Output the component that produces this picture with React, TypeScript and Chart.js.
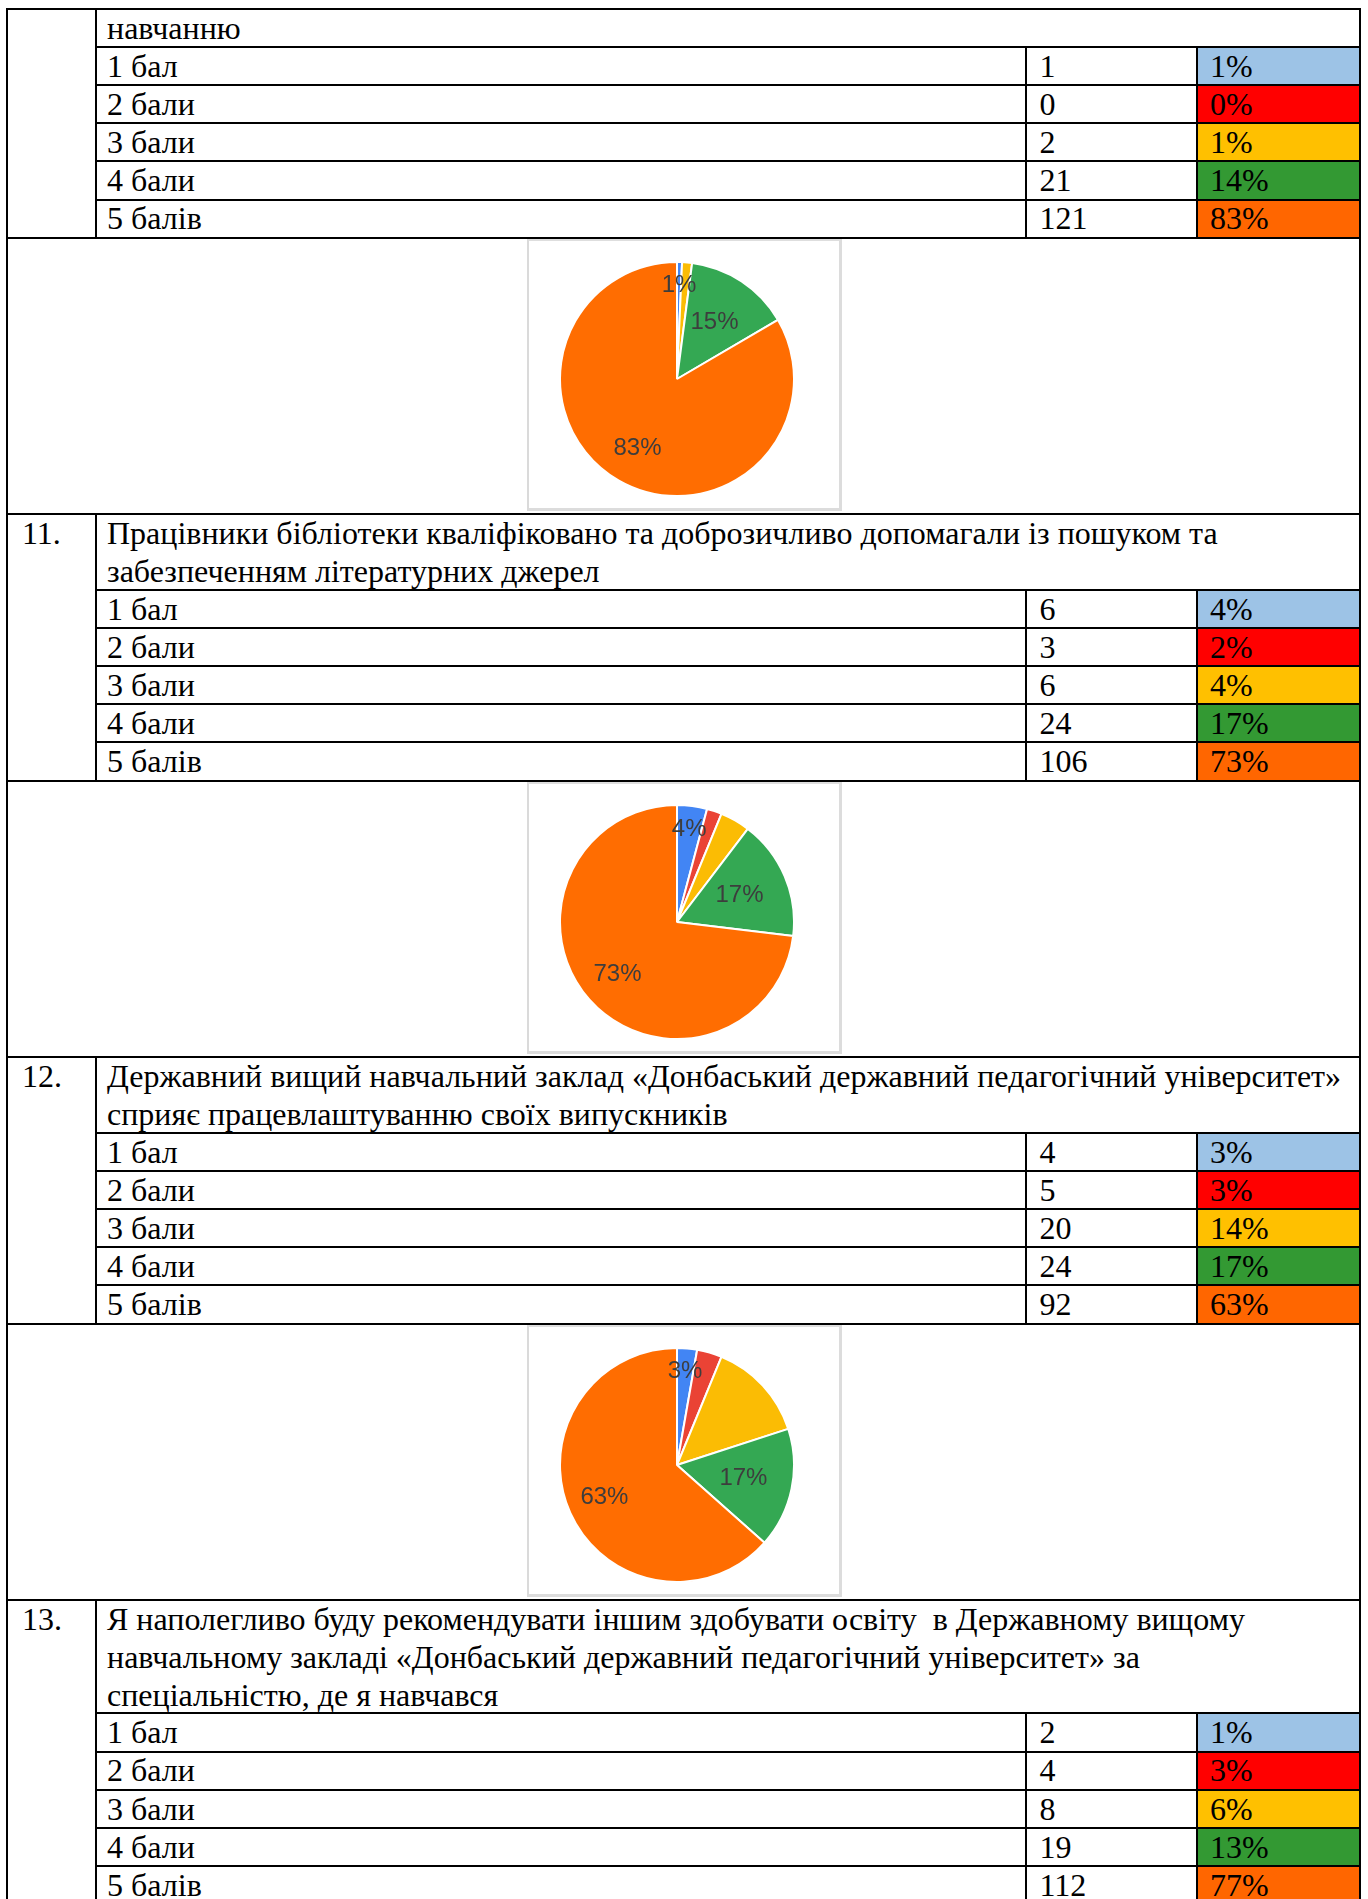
import React, { useEffect, useRef } from "react";
import { Chart, registerables } from "chart.js";

Chart.register(...registerables);

// ---------- data ----------
const scoreLabels = ["1 бал", "2 бали", "3 бали", "4 бали", "5 балів"];

const q10Number = "";
const q10Header = ["навчанню"];
const q10Counts = [1, 0, 2, 21, 121];
const q10Percents = ["1%", "0%", "1%", "14%", "83%"];
const q10PieLabels = ["1%", "", "", "15%", "83%"];

const q11Number = "11.";
const q11Header = [
  "Працівники бібліотеки кваліфіковано та доброзичливо допомагали із пошуком та",
  "забезпеченням літературних джерел",
];
const q11Counts = [6, 3, 6, 24, 106];
const q11Percents = ["4%", "2%", "4%", "17%", "73%"];
const q11PieLabels = ["4%", "", "", "17%", "73%"];

const q12Number = "12.";
const q12Header = [
  "Державний вищий навчальний заклад «Донбаський державний педагогічний університет»",
  "сприяє працевлаштуванню своїх випускників",
];
const q12Counts = [4, 5, 20, 24, 92];
const q12Percents = ["3%", "3%", "14%", "17%", "63%"];
const q12PieLabels = ["3%", "", "", "17%", "63%"];

const q13Number = "13.";
const q13Header = [
  "Я наполегливо буду рекомендувати іншим здобувати освіту  в Державному вищому",
  "навчальному закладі «Донбаський державний педагогічний університет» за",
  "спеціальністю, де я навчався",
];
const q13Counts = [2, 4, 8, 19, 112];
const q13Percents = ["1%", "3%", "6%", "13%", "77%"];

const pieColors = ["#4285F4", "#EA4335", "#FBBC04", "#34A853", "#FF6D01"];
const cellColors = ["#9DC3E6", "#FF0000", "#FFC000", "#339933", "#FF6600"];

// ---------- layout ----------
const X_LEFT = 7;
const X_C1 = 96;
const X_C3 = 1026;
const X_C4 = 1197;
const X_RIGHT = 1360;
const Y0 = 9.2;
const HL = 37.7;
const RP = 38.15;
const PR = 276.8;
const PAGE_H = 1899;
const PIE_SIZE = 236;
const TEXT_DY = 0.8;

type Section = {
  num: string;
  header: string[];
  counts: number[];
  percents: string[];
  pieLabels: string[] | null;
};

const sections: Section[] = [
  { num: q10Number, header: q10Header, counts: q10Counts, percents: q10Percents, pieLabels: q10PieLabels },
  { num: q11Number, header: q11Header, counts: q11Counts, percents: q11Percents, pieLabels: q11PieLabels },
  { num: q12Number, header: q12Header, counts: q12Counts, percents: q12Percents, pieLabels: q12PieLabels },
  { num: q13Number, header: q13Header, counts: q13Counts, percents: q13Percents, pieLabels: null },
];

function makeLabelPlugin(labels: string[]) {
  return {
    id: "sliceLabels",
    afterDatasetsDraw(chart: any) {
      const meta = chart.getDatasetMeta(0);
      const ctx = chart.ctx;
      ctx.save();
      ctx.font = "24px 'Liberation Sans', Arial, sans-serif";
      ctx.fillStyle = "#3d3d3d";
      ctx.textAlign = "center";
      ctx.textBaseline = "middle";
      meta.data.forEach((arc: any, i: number) => {
        const text = labels[i];
        if (!text) return;
        const p = arc.getProps(["x", "y", "startAngle", "endAngle", "outerRadius"], true);
        const span = p.endAngle - p.startAngle;
        const f = span < 0.5 ? 0.8 : span > Math.PI ? 0.68 : 0.58;
        const mid = (p.startAngle + p.endAngle) / 2;
        ctx.fillText(text, p.x + Math.cos(mid) * p.outerRadius * f, p.y + Math.sin(mid) * p.outerRadius * f);
      });
      ctx.restore();
    },
  };
}

function PieChart({ counts, labels, left, top }: { counts: number[]; labels: string[]; left: number; top: number }) {
  const ref = useRef<HTMLCanvasElement | null>(null);
  useEffect(() => {
    if (!ref.current) return;
    const chart = new Chart(ref.current, {
      type: "pie",
      data: {
        labels: scoreLabels,
        datasets: [
          {
            data: counts,
            backgroundColor: pieColors,
            borderColor: "#ffffff",
            borderWidth: 2,
          },
        ],
      },
      options: {
        animation: false,
        responsive: false,
        devicePixelRatio: 1,
        events: [],
        plugins: {
          legend: { display: false },
          tooltip: { enabled: false },
        },
      },
      plugins: [makeLabelPlugin(labels)],
    } as any);
    return () => chart.destroy();
  }, [counts, labels]);
  return (
    <canvas
      ref={ref}
      width={PIE_SIZE}
      height={PIE_SIZE}
      style={{ position: "absolute", left, top, width: PIE_SIZE, height: PIE_SIZE }}
    />
  );
}

const textStyle: React.CSSProperties = {
  position: "absolute",
  fontFamily: "'Liberation Serif', 'Times New Roman', serif",
  fontSize: 32,
  lineHeight: `${HL}px`,
  whiteSpace: "pre",
  color: "#000",
};

function HLine({ y, x1, x2 }: { y: number; x1: number; x2: number }) {
  return (
    <div
      style={{
        position: "absolute",
        left: x1 - 1,
        width: x2 - x1 + 2,
        top: Math.round(y - 1),
        height: 2,
        background: "#000",
      }}
    />
  );
}

function VLine({ x, y1, y2 }: { x: number; y1: number; y2: number }) {
  const t = Math.round(y1 - 1);
  return (
    <div
      style={{
        position: "absolute",
        left: x - 1,
        width: 2,
        top: t,
        height: Math.round(y2 + 1) - t,
        background: "#000",
      }}
    />
  );
}

export default function App() {
  let y = Y0;
  const layout = sections.map((s) => {
    const top = y;
    y += s.header.length * HL;
    const rows: number[] = [];
    for (let i = 0; i < scoreLabels.length; i++) {
      rows.push(y);
      y += RP;
    }
    const pieTop = y;
    y += PR;
    return { ...s, top, rows, pieTop };
  });

  const els: React.ReactNode[] = [];
  layout.forEach((s, si) => {
    els.push(<HLine key={`t${si}`} y={s.top} x1={X_LEFT} x2={X_RIGHT} />);
    els.push(<VLine key={`c1${si}`} x={X_C1} y1={s.top} y2={s.pieTop} />);
    els.push(<VLine key={`c3${si}`} x={X_C3} y1={s.rows[0]} y2={s.pieTop} />);
    els.push(<VLine key={`c4${si}`} x={X_C4} y1={s.rows[0]} y2={s.pieTop} />);
    if (s.num) {
      els.push(
        <div key={`n${si}`} style={{ ...textStyle, left: 22, top: s.top + TEXT_DY }}>
          {s.num}
        </div>
      );
    }
    s.header.forEach((line, li) => {
      els.push(
        <div key={`h${si}-${li}`} style={{ ...textStyle, left: 107, top: s.top + li * HL + TEXT_DY }}>
          {line}
        </div>
      );
    });
    s.rows.forEach((ry, ri) => {
      const next = ri + 1 < s.rows.length ? s.rows[ri + 1] : s.pieTop;
      els.push(
        <div
          key={`bg${si}-${ri}`}
          style={{
            position: "absolute",
            left: X_C4 + 1,
            width: X_RIGHT - X_C4 - 2,
            top: Math.round(ry + 1),
            height: Math.round(next - 1) - Math.round(ry + 1),
            background: cellColors[ri],
          }}
        />
      );
      els.push(<HLine key={`r${si}-${ri}`} y={ry} x1={X_C1} x2={X_RIGHT} />);
      els.push(
        <div key={`l${si}-${ri}`} style={{ ...textStyle, left: 107, top: ry + TEXT_DY }}>
          {scoreLabels[ri]}
        </div>
      );
      els.push(
        <div key={`c${si}-${ri}`} style={{ ...textStyle, left: 1039.5, top: ry + TEXT_DY }}>
          {String(s.counts[ri])}
        </div>
      );
      els.push(
        <div key={`p${si}-${ri}`} style={{ ...textStyle, left: 1210, top: ry + TEXT_DY }}>
          {s.percents[ri]}
        </div>
      );
    });
    els.push(<HLine key={`pt${si}`} y={s.pieTop} x1={X_LEFT} x2={X_RIGHT} />);
    if (s.pieLabels) {
      const boxTop = Math.round(s.pieTop + 1);
      els.push(
        <div
          key={`box${si}`}
          style={{
            position: "absolute",
            left: 527,
            top: boxTop,
            width: 315,
            height: 272,
            boxSizing: "border-box",
            borderTop: "2px solid #dedede",
            borderLeft: "2px solid #dadada",
            borderRight: "3px solid #dcdcdc",
            borderBottom: "3px solid #dcdcdc",
            background: "#fff",
          }}
        />
      );
      els.push(
        <PieChart
          key={`pie${si}`}
          counts={s.counts}
          labels={s.pieLabels}
          left={677 - PIE_SIZE / 2}
          top={Math.round(s.pieTop + 141.5 - PIE_SIZE / 2)}
        />
      );
    }
  });

  els.push(<VLine key="left" x={X_LEFT} y1={Y0} y2={PAGE_H + 2} />);
  els.push(<VLine key="right" x={X_RIGHT} y1={Y0} y2={PAGE_H + 2} />);

  return (
    <div
      style={{
        position: "absolute",
        left: 0,
        top: 0,
        width: 1368,
        height: PAGE_H,
        overflow: "hidden",
        background: "#fff",
      }}
    >
      {els}
    </div>
  );
}
